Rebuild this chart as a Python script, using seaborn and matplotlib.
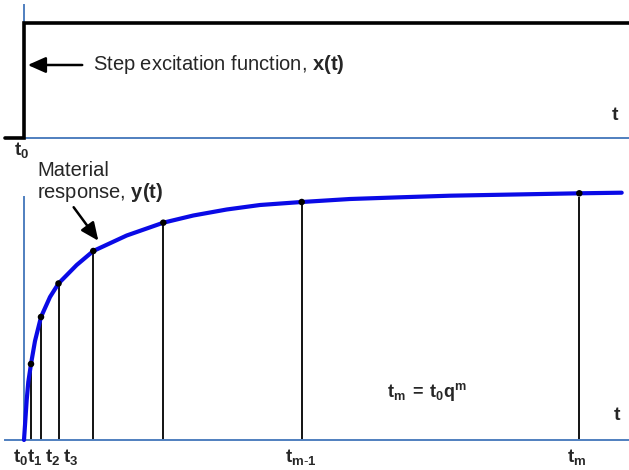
import matplotlib
matplotlib.use("Agg")
import matplotlib.pyplot as plt
import seaborn as sns
import pandas as pd

sns.set_theme(style="white")
plt.rcParams["font.family"] = ["Liberation Sans", "DejaVu Sans"]
plt.rcParams["mathtext.fontset"] = "custom"
plt.rcParams["mathtext.rm"] = "Liberation Sans"
plt.rcParams["mathtext.it"] = "Liberation Sans:italic"
plt.rcParams["mathtext.bf"] = "Liberation Sans:bold"

AXIS_BLUE = "#4f7fbf"
CURVE_BLUE = "#0a0ae6"

# step excitation x(t)
step_t = [-19, 0, 0, 605]
step_x = [0, 0, 115, 115]

# material response y(t)
curve_t = [0, 2.7, 4.3, 7, 11, 17, 26, 34.5, 52.7, 69.3, 102.7, 139.3,
           169.3, 202.7, 236, 277.7, 326, 376, 426, 555.3, 597.7]
curve_y = [0, 40, 58, 76, 99, 123, 143, 156.5, 175, 189, 204.5, 217.3,
           224.5, 230.5, 235, 238, 241, 242.7, 244.3, 246.7, 247.3]

# sampling times t_1 ... t_m (t_m = t_0 q^m) and response there
sample_t = [7, 17, 34.5, 69.3, 139.3, 277.7, 555.3]
sample_y = [76, 123, 156.5, 189, 217.3, 238, 246.7]

# time labels under the axis
label_text = [r"$\mathbf{t_0}$", r"$\mathbf{t_1}$", r"$\mathbf{t_2}$", r"$\mathbf{t_3}$",
              r"$\mathbf{t_{m\text{-}1}}$", r"$\mathbf{t_m}$"]
label_t = [-3.5, 10.5, 28.5, 46.5, 277, 553]

fig = plt.figure(figsize=(6.29, 4.70), dpi=100)
W, H = 629, 470

# ---- top panel: step excitation
ax1 = fig.add_axes([5 / W, (H - 137.5) / H, 624 / W, 137.5 / H])
ax1.set_xlim(-19, 605)
ax1.set_ylim(0, 137.5)
ax1.plot(step_t, step_x, color="black", lw=2.6, solid_joinstyle="miter", clip_on=False, zorder=3)
ax1.spines["left"].set_position(("data", 0))
ax1.spines["left"].set_bounds(0, 132.5)

ax1.annotate("", xy=(1, 72.5), xytext=(61, 72.5),
             arrowprops=dict(arrowstyle="-|>,head_length=0.9,head_width=0.4", color="black", lw=1.8))
ax1.text(69, 72.5, r"Step excitation function, $\mathbf{x(t)}$", fontsize=14.5,
         va="center", ha="left")
ax1.text(591, 21.5, "t", fontsize=14, fontweight="bold", ha="center", va="center")
ax1.text(-2.5, -12, r"$\mathbf{t_0}$", fontsize=13.5, ha="center", va="center")

# ---- bottom panel: material response
ax2 = fig.add_axes([5 / W, 30 / H, 624 / W, 243 / H])
ax2.set_xlim(-19, 605)
ax2.set_ylim(0, 243)
ax2.spines["left"].set_position(("data", 0))
ax2.spines["left"].set_bounds(0, 243)

ax2.vlines(sample_t, 0, sample_y, color="black", lw=1.3, zorder=2)
resp = pd.DataFrame({"t": curve_t, "y": curve_y})
sns.lineplot(data=resp, x="t", y="y", ax=ax2, color=CURVE_BLUE, lw=3, sort=False, zorder=3)
for ln in ax2.lines:
    ln.set_clip_on(False)
    ln.set_solid_joinstyle("round")
    ln.set_solid_capstyle("round")
pts = pd.DataFrame({"t": sample_t, "y": sample_y})
sns.scatterplot(data=pts, x="t", y="y", ax=ax2, color="black", s=22, edgecolor="none",
                zorder=4, clip_on=False)

for txt, tx in zip(label_text, label_t):
    ax2.text(tx, -17, txt, fontsize=13.5, ha="center", va="center")

ax2.text(13, 269, "Material", fontsize=14.5, ha="left", va="center")
ax2.text(13, 247, r"response, $\mathbf{y(t)}$", fontsize=14.5, ha="left", va="center")
ax2.annotate("", xy=(76, 197), xytext=(48, 235),
             arrowprops=dict(arrowstyle="-|>,head_length=0.9,head_width=0.4", color="black", lw=1.8))
ax2.text(363, 48, r"$\mathbf{t_m\;=\;t_0q^m}$", fontsize=13, ha="left", va="center")
ax2.text(593, 25, "t", fontsize=14, fontweight="bold", ha="center", va="center")

for ax in (ax1, ax2):
    ax.set_xlabel("")
    ax.set_ylabel("")
    ax.set_xticks([])
    ax.set_yticks([])
    ax.set_facecolor("none")
    ax.spines["top"].set_visible(False)
    ax.spines["right"].set_visible(False)
    for s in ("left", "bottom"):
        ax.spines[s].set_color(AXIS_BLUE)
        ax.spines[s].set_linewidth(1.4)

fig.savefig("out.png", dpi=100)
